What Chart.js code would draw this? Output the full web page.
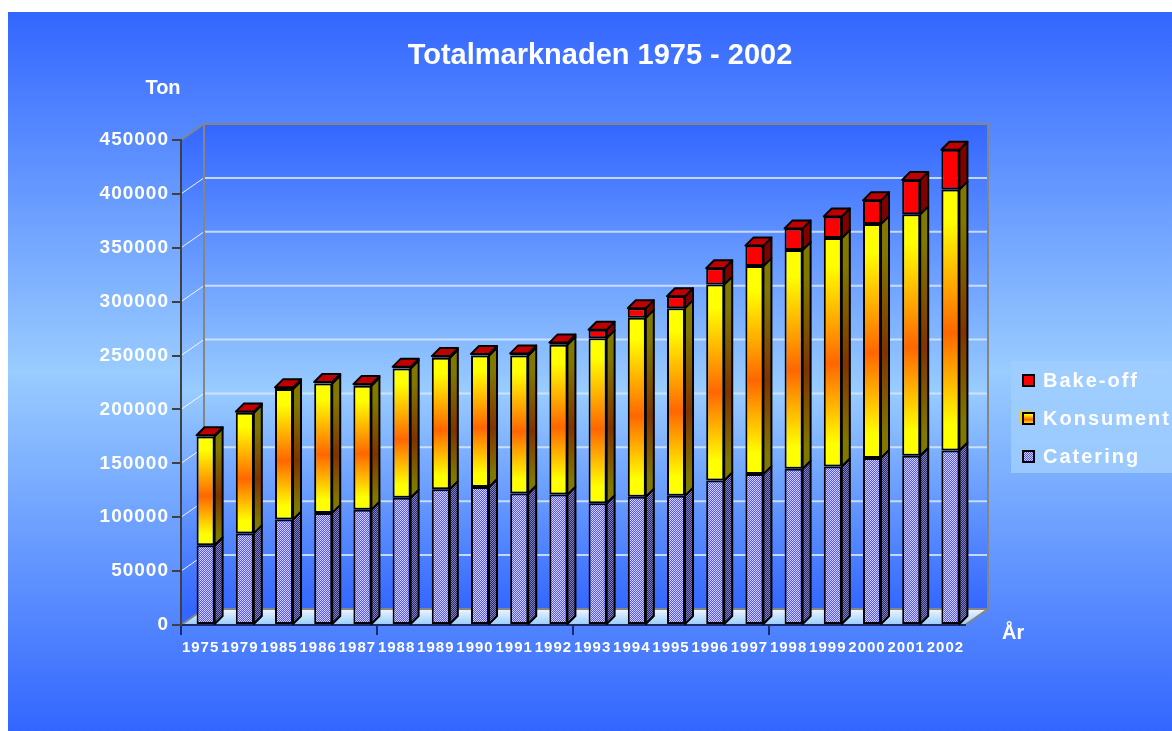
<!DOCTYPE html>
<html>
<head>
<meta charset="utf-8">
<script src="https://cdn.jsdelivr.net/npm/chart.js@4/dist/chart.umd.min.js"></script>
<style>
html, body { margin: 0; padding: 0; background: #fff; }
canvas { display: block; }
</style>
</head>
<body>
<canvas id="myChart" width="1172" height="731"></canvas>
<script>
// data (ton)
const years = ['1975', '1979', '1985', '1986', '1987', '1988', '1989', '1990', '1991', '1992',
               '1993', '1994', '1995', '1996', '1997', '1998', '1999', '2000', '2001', '2002'];
const catering  = [74000, 85000, 98000, 104000, 107000, 118000, 126000, 128000, 122000, 121000,
                   113000, 119000, 120000, 134000, 140000, 145000, 147000, 155000, 157000, 162000];
const konsument = [101000, 112000, 121000, 120000, 115000, 120000, 122000, 122000, 128000, 139000,
                   153000, 166000, 174000, 182000, 193000, 203000, 212000, 217000, 224000, 242000];
const bakeoff   = [1000, 1000, 1500, 1500, 1500, 1500, 1500, 1500, 2000, 2000,
                   8000, 9000, 11000, 15000, 19000, 20000, 20000, 22000, 32000, 37000];
const yMax = 450000;
const yStep = 50000;
const titleText = 'Totalmarknaden 1975 - 2002';
const yTitle = 'Ton';
const xTitle = 'År';

// 3d look
const WALL_DX = 23, WALL_DY = 16;
const BAR_D = 8, BAR_SHIFT = 5;
const FONT = 'Arial, "Liberation Sans", sans-serif';

checker = (a, b) => {
    const c = document.createElement('canvas');
    c.width = 2; c.height = 2;
    const x = c.getContext('2d');
    x.fillStyle = b; x.fillRect(0, 0, 2, 2);
    x.fillStyle = a; x.fillRect(0, 0, 1, 1); x.fillRect(1, 1, 1, 1);
    return x.createPattern(c, 'repeat');
};
const cateringFront = checker('#5555ff', '#d4d4ff');
const cateringSide = checker('#2a2a6a', '#8080c0');

yellowOrange = (ctx, top, bottom, dark) => {
    if (!isFinite(top) || !isFinite(bottom)) return dark ? '#805000' : '#ff9900';
    const g = ctx.createLinearGradient(0, top, 0, bottom);
    if (dark) {
        g.addColorStop(0, '#807800'); g.addColorStop(0.12, '#807800');
        g.addColorStop(0.55, '#803300');
        g.addColorStop(0.9, '#807800'); g.addColorStop(1, '#807800');
    } else {
        g.addColorStop(0, '#ffff00'); g.addColorStop(0.12, '#ffff00');
        g.addColorStop(0.55, '#ff6600');
        g.addColorStop(0.9, '#ffff00'); g.addColorStop(1, '#ffff00');
    }
    return g;
};

konsFill = (c) => {
    const chart = c.chart, ys = chart.scales.y;
    if (!ys || c.dataIndex === undefined) return '#ff9900';
    const i = c.dataIndex;
    const lo = ys.getPixelForValue(catering[i]);
    const hi = ys.getPixelForValue(catering[i] + konsument[i]);
    return yellowOrange(chart.ctx, hi, lo, false);
};

const scene = {
    id: 'scene',
    beforeDraw(chart) {
        const ctx = chart.ctx, a = chart.chartArea, ys = chart.scales.y;
        ctx.save();
        ctx.fillStyle = '#fff';
        ctx.fillRect(0, 0, chart.width, chart.height);
        let g = ctx.createLinearGradient(0, 12, 0, chart.height);
        g.addColorStop(0, '#3366ff'); g.addColorStop(0.5, '#99ccff'); g.addColorStop(1, '#3366ff');
        ctx.fillStyle = g;
        ctx.fillRect(8, 12, chart.width - 8, chart.height - 12);

        const L = a.left, R = a.right, T = a.top, B = a.bottom;
        // walls
        g = ctx.createLinearGradient(0, T - WALL_DY, 0, B - WALL_DY);
        g.addColorStop(0, '#3366ff'); g.addColorStop(0.55, '#99ccff'); g.addColorStop(1, '#3366ff');
        ctx.fillStyle = g;
        ctx.beginPath();
        ctx.moveTo(L, T); ctx.lineTo(L + WALL_DX, T - WALL_DY);
        ctx.lineTo(R + WALL_DX, T - WALL_DY); ctx.lineTo(R + WALL_DX, B - WALL_DY);
        ctx.lineTo(L + WALL_DX, B - WALL_DY); ctx.lineTo(L, B); ctx.closePath();
        ctx.fill();
        // floor
        g = ctx.createLinearGradient(0, B - WALL_DY, 0, B);
        g.addColorStop(0, '#eef6ff'); g.addColorStop(1, '#99ccff');
        ctx.fillStyle = g;
        ctx.beginPath();
        ctx.moveTo(L, B); ctx.lineTo(L + WALL_DX, B - WALL_DY);
        ctx.lineTo(R + WALL_DX, B - WALL_DY); ctx.lineTo(R, B); ctx.closePath();
        ctx.fill();
        // gridlines
        ys.ticks.forEach(t => {
            if (t.value <= 0 || t.value >= yMax) return;
            const y = ys.getPixelForValue(t.value);
            ctx.strokeStyle = 'rgba(255,255,255,0.9)'; ctx.lineWidth = 1;
            ctx.beginPath(); ctx.moveTo(L, y); ctx.lineTo(L + WALL_DX, y - WALL_DY); ctx.stroke();
            ctx.strokeStyle = 'rgba(215,232,255,0.85)'; ctx.lineWidth = 2;
            ctx.beginPath(); ctx.moveTo(L + WALL_DX, y - WALL_DY); ctx.lineTo(R + WALL_DX, y - WALL_DY); ctx.stroke();
        });
        // wall frame
        ctx.strokeStyle = '#858585'; ctx.lineWidth = 2;
        ctx.beginPath();
        ctx.moveTo(L, T); ctx.lineTo(L + WALL_DX, T - WALL_DY);
        ctx.lineTo(R + WALL_DX, T - WALL_DY); ctx.lineTo(R + WALL_DX, B - WALL_DY);
        ctx.lineTo(R, B);
        ctx.moveTo(L + WALL_DX, T - WALL_DY); ctx.lineTo(L + WALL_DX, B - WALL_DY);
        ctx.lineTo(R + WALL_DX, B - WALL_DY);
        ctx.moveTo(L, B); ctx.lineTo(L + WALL_DX, B - WALL_DY);
        ctx.stroke();
        ctx.restore();
        ctx.letterSpacing = '1px';
    },
    beforeDatasetsDraw(chart) {
        chart.ctx.save();
        chart.ctx.translate(BAR_SHIFT, 0);
    },
    afterDatasetsDraw(chart) {
        const ctx = chart.ctx;
        const metas = [0, 1, 2].map(d => chart.getDatasetMeta(d));
        const values = [catering, konsument, bakeoff];
        const topFill = ['#9a9ac8', '#cccc00', '#c00000'];
        ctx.lineWidth = 2;
        ctx.strokeStyle = '#000';
        ctx.lineJoin = 'round';
        years.forEach((yr, i) => {
            let last = -1;
            values.forEach((v, d) => { if (v[i] > 0) last = d; });
            metas.forEach((meta, d) => {
                const el = meta.data[i];
                if (!el || !(values[d][i] > 0)) return;
                const p = el.getProps(['x', 'y', 'base', 'width'], true);
                const l = p.x - p.width / 2, r = p.x + p.width / 2;
                const top = Math.min(p.y, p.base), bot = Math.max(p.y, p.base);
                // side face
                ctx.fillStyle = d === 0 ? cateringSide : d === 1 ? yellowOrange(ctx, top, bot, true) : '#800000';
                ctx.beginPath();
                ctx.moveTo(r, bot); ctx.lineTo(r + BAR_D, bot - BAR_D);
                ctx.lineTo(r + BAR_D, top - BAR_D); ctx.lineTo(r, top); ctx.closePath();
                ctx.fill(); ctx.stroke();
                if (d === last) {
                    ctx.fillStyle = topFill[d];
                    ctx.beginPath();
                    ctx.moveTo(l, top); ctx.lineTo(l + BAR_D, top - BAR_D);
                    ctx.lineTo(r + BAR_D, top - BAR_D); ctx.lineTo(r, top); ctx.closePath();
                    ctx.fill(); ctx.stroke();
                }
            });
        });
        ctx.restore();
    },
    afterDraw(chart) {
        const ctx = chart.ctx;
        ctx.save();
        ctx.fillStyle = '#fff';
        ctx.textBaseline = 'middle';
        ctx.letterSpacing = '0px';
        ctx.font = 'bold 29px ' + FONT;
        ctx.textAlign = 'center';
        ctx.fillText(titleText, 600, 56);
        ctx.font = 'bold 20px ' + FONT;
        ctx.fillText(yTitle, 163, 88);
        ctx.textAlign = 'left';
        ctx.fillText(xTitle, 1002, 633);

        // legend
        ctx.fillStyle = 'rgba(160,206,255,0.85)';
        ctx.fillRect(1011, 361, 161, 112);
        const items = [2, 1, 0];
        const rowY = [381, 419, 457];
        ctx.font = 'bold 20px ' + FONT;
        ctx.letterSpacing = '2px';
        items.forEach((d, k) => {
            const y = rowY[k];
            let fill = d === 0 ? cateringFront : d === 1 ? yellowOrange(ctx, y - 6, y + 6, false) : '#ff0000';
            if (d === 1) {
                ctx.fillStyle = '#ffcc00';
                ctx.fillRect(1020, y - 8, 12, 12);
            }
            ctx.fillStyle = fill;
            ctx.fillRect(1023, y - 6, 11, 11);
            ctx.strokeStyle = '#000'; ctx.lineWidth = 2;
            ctx.strokeRect(1023, y - 6, 11, 11);
            ctx.fillStyle = '#fff';
            ctx.fillText(chart.data.datasets[d].label, 1043, y);
        });
        ctx.restore();
        ctx.letterSpacing = '0px';
    }
};

const chart = new Chart(document.getElementById('myChart'), {
    type: 'bar',
    data: {
        labels: years,
        datasets: [
            { label: 'Catering', data: catering, backgroundColor: cateringFront },
            { label: 'Konsument', data: konsument, backgroundColor: konsFill },
            { label: 'Bake-off', data: bakeoff, backgroundColor: '#ff0000' }
        ]
    },
    options: {
        responsive: false,
        devicePixelRatio: 1,
        animation: false,
        layout: { padding: { left: 8, top: 140, right: 207, bottom: 0 } },
        datasets: {
            bar: {
                borderColor: '#000',
                borderWidth: 2,
                borderSkipped: false,
                categoryPercentage: 1,
                barPercentage: 0.46
            }
        },
        plugins: {
            legend: { display: false },
            title: { display: false },
            tooltip: { enabled: false }
        },
        scales: {
            x: {
                stacked: true,
                afterFit: (s) => { s.height = 106; },
                border: { display: true, color: '#1a2a6c', width: 2 },
                grid: {
                    drawOnChartArea: false,
                    drawTicks: true,
                    tickLength: 10,
                    lineWidth: 2,
                    color: (c) => (c.index % 5 === 0 ? '#1a2a6c' : 'rgba(0,0,0,0)')
                },
                ticks: {
                    color: '#fff',
                    font: { family: FONT, size: 15, weight: 'bold' },
                    autoSkip: false,
                    maxRotation: 0,
                    padding: 4
                }
            },
            y: {
                stacked: true,
                min: 0,
                max: yMax,
                afterFit: (s) => { s.width = 173; },
                border: { display: true, color: '#404040', width: 2 },
                grid: {
                    drawOnChartArea: false,
                    drawTicks: true,
                    tickLength: 9,
                    color: '#404040',
                    lineWidth: 2
                },
                ticks: {
                    stepSize: yStep,
                    color: '#fff',
                    font: { family: FONT, size: 19, weight: 'bold' },
                    padding: 3,
                    callback: (v) => String(v)
                }
            }
        }
    },
    plugins: [scene]
});
</script>
</body>
</html>
